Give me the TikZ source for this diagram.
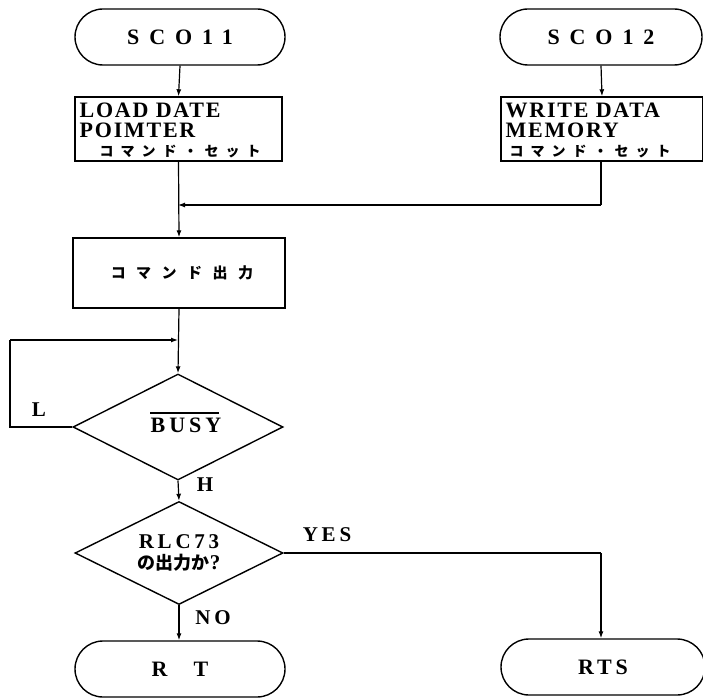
\documentclass[tikz,border=0pt]{standalone}
\usepackage{fontspec}
\setmainfont{Liberation Serif}
\newfontfamily\jp{Noto Sans CJK JP}
\newfontfamily\jpw{Noto Sans CJK JP}[LetterSpace=50]
\newfontfamily\jpx{Noto Sans CJK JP}[LetterSpace=70]
\newfontfamily\wideA{Liberation Serif}[LetterSpace=45]
\newfontfamily\wideB{Liberation Serif}[LetterSpace=8]
\newfontfamily\wideC{Liberation Serif}[LetterSpace=18]
\usetikzlibrary{shapes.misc,shapes.geometric,arrows.meta}
\begin{document}
\begin{tikzpicture}[x=1pt,y=-1pt,line width=1.4pt,
  term/.style={draw,rounded rectangle,minimum height=56pt,inner sep=0pt,font=\wideA\bfseries\fontsize{22}{24}\selectfont},
  procbox/.style={draw,rectangle,inner sep=0pt},
  decision/.style={draw,diamond,inner sep=0pt,minimum width=210pt,minimum height=106pt,aspect=1.98},
  lbl/.style={font=\wideC\bfseries\fontsize{21}{22}\selectfont},
  arr/.style={-{Latex[length=7pt,width=5pt]},line width=1.2pt},
  ln/.style={line width=1.2pt}]
\useasboundingbox (0,0) rectangle (703,700);

\node[term,minimum width=210pt] (s11) at (180,37) {SCO11};
\node[term,minimum width=202pt] (s12) at (601,37) {SCO12};

\node[procbox,minimum width=207pt,minimum height=64pt] (b1) at (178.5,129) {};
\node[anchor=north west,align=left,inner sep=0pt,font=\wideB\bfseries\fontsize{22}{20}\selectfont] (t1) at (79,102.5)
  {LOAD DATE\\POIMTER\\[-1pt]\hspace*{20pt}{\jpw\bfseries\fontsize{14}{15}\selectfont コマンド・セット}};

\node[procbox,minimum width=202pt,minimum height=64pt] (b2) at (602,129) {};
\node[anchor=north west,align=left,inner sep=0pt,font=\wideB\bfseries\fontsize{22}{20}\selectfont] (t2) at (505,102.5)
  {WRITE DATA\\MEMORY\\[-1pt]\hspace*{4pt}{\jpw\bfseries\fontsize{14}{15}\selectfont コマンド・セット}};

\node[procbox,minimum width=212pt,minimum height=70pt,font=\jpx\bfseries\fontsize{15}{16}\selectfont] (b3) at (179,273) {\hspace*{6pt}コマンド出力};

\node[decision] (d1) at (178,427) {};
\node[inner sep=0pt,font=\wideC\bfseries\fontsize{22}{24}\selectfont] (busy) at (186,425) {BUSY};
\draw[line width=1.2pt] ([yshift=4pt]busy.north west) -- ([yshift=4pt,xshift=-3pt]busy.north east);

\node[decision,minimum height=103pt,minimum width=208pt,aspect=2.02,align=center,font=\bfseries\fontsize{21}{22}\selectfont] (d2) at (179,553)
  {{\wideC RLC73}\\[-1pt]{\jp\bfseries\fontsize{18}{19}\selectfont の出力か}?};

\node[term,minimum width=210pt] (rt) at (180,669) {R\hspace{26pt}T};
\node[term,minimum width=204pt,font=\wideC\bfseries\fontsize{22}{24}\selectfont] (rts) at (603,667) {RTS};

\coordinate (j1) at (178,205);
\coordinate (j2) at (178,340);
\coordinate (c1) at (601,205);
\coordinate (c2) at (10,427);
\coordinate (c3) at (10,340);
\coordinate (c4) at (601,553);

\draw[arr] (s11.south) -- (b1.north);
\draw[arr] (s12.south) -- (b2.north);
\draw[arr] (b1.south) -- (b3.north);
\draw[ln] (b2.south -| c1) -- (c1);
\draw[arr] (c1) -- (j1);
\draw[arr] (b3.south) -- (d1.north);
\draw[ln] (d1.west) -- (c2) -- (c3);
\draw[arr] (c3) -- (j2);
\draw[arr] (d1.south) -- (d2.north);
\draw[ln] (d2.east) -- (c4);
\draw[arr] (c4) -- (rts.north -| c4);
\draw[arr] (d2.south) -- (rt.north -| d2.south);

\node[lbl] (lL) at (39,410) {L};
\node[lbl] (lH) at (205,485) {H};
\node[lbl] (lY) at (327,535) {YES};
\node[lbl] (lN) at (213,618) {NO};
\end{tikzpicture}
\end{document}
